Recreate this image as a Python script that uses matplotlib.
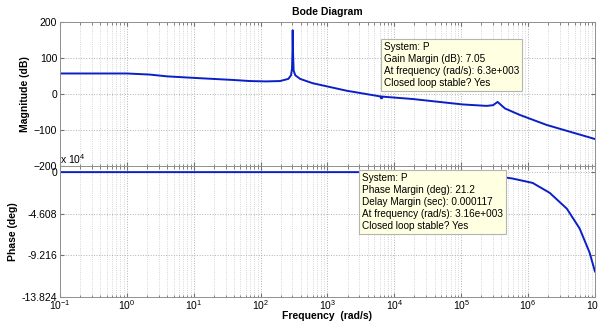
import numpy as np
import matplotlib
matplotlib.use('Agg')
import matplotlib.pyplot as plt
from matplotlib.ticker import FuncFormatter, LogLocator, NullFormatter

plt.rcParams['font.family'] = ['Liberation Sans', 'DejaVu Sans']
plt.rcParams['mathtext.fontset'] = 'custom'
plt.rcParams['mathtext.rm'] = 'Liberation Sans'
plt.rcParams['mathtext.it'] = 'Liberation Sans'

# magnitude curve (rad/s, dB)
mag_freq = [0.1, 0.4, 1, 2.2, 4, 12, 39, 69, 120, 195, 260, 285, 295, 300, 302,
            305, 312, 330, 390, 600, 1950, 6300, 19000, 105000, 240000, 300000,
            350000, 450000, 750000, 1.9e6, 1e7]
mag_db = [57, 57, 57, 54, 49, 44, 39, 36, 35, 36, 42, 52, 70, 120, 177,
          120, 65, 52, 42, 30, 9, -7, -14, -29, -33, -31,
          -22, -40, -58, -86, -125]

# phase curve (rad/s, deg)
ph_freq = [0.1, 1, 10, 100, 1000, 3160, 1e4, 1e5, 2e5, 5.9e5, 1.17e6, 2.1e6,
           3.8e6, 5.9e6, 8.3e6, 1e7]
ph_deg = [-160, -160, -160, -160, -160, -160, -160, -1000, -2100, -7300, -12100,
          -23000, -40600, -62500, -89000, -110000]

mag_yticks = [-200, -100, 0, 100, 200]
ph_yticks = [0, -46080, -92160, -138240]
x_ticks = [10.0 ** k for k in range(-1, 8)]

gm_point = (6300, -7)
pm_point = (3160, -160)

gm_text = ('System: P\nGain Margin (dB): 7.05\n'
           'At frequency (rad/s): 6.3e+003\nClosed loop stable? Yes')
pm_text = ('System: P\nPhase Margin (deg): 21.2\nDelay Margin (sec): 0.000117\n'
           'At frequency (rad/s): 3.16e+003\nClosed loop stable? Yes')

line_color = '#0a1fc8'
box = dict(boxstyle='square,pad=0.3', facecolor='#ffffe1', edgecolor='#b4b4b4', linewidth=0.8)

fig = plt.figure(figsize=(5.98, 3.25), dpi=100)
ax1 = fig.add_axes([0.1003, 0.4892, 0.8946, 0.4431])
ax2 = fig.add_axes([0.1003, 0.0862, 0.8946, 0.4030])


def style_axes(ax):
    ax.set_xscale('log')
    ax.set_xlim(0.1, 1e7)
    ax.set_xticks(x_ticks)
    ax.xaxis.set_minor_locator(LogLocator(base=10, subs=np.arange(2, 10), numticks=20))
    ax.xaxis.set_minor_formatter(NullFormatter())
    ax.grid(True, which='major', linestyle=':', color='#b0b0b0', linewidth=0.7)
    ax.grid(True, which='minor', axis='x', linestyle=':', color='#c8c8c8', linewidth=0.6)
    ax.tick_params(which='both', direction='in', top=True, right=True, colors='#707070',
                   labelcolor='black', labelsize=7.5)
    ax.tick_params(which='major', length=3, pad=2)
    ax.tick_params(which='minor', length=1.8)
    for s in ax.spines.values():
        s.set_color('#909090')
        s.set_linewidth(0.7)


style_axes(ax1)
ax1.plot(mag_freq, mag_db, color=line_color, linewidth=1.4)
ax1.plot(*gm_point, marker='.', color=line_color, markersize=3)
ax1.set_ylim(-200, 200)
ax1.set_yticks(mag_yticks)
ax1.tick_params(labelbottom=False)
ax1.set_ylabel('Magnitude (dB)', fontsize=7.5, fontweight='bold', labelpad=3)
ax1.set_title('Bode Diagram', fontsize=7.5, fontweight='bold', pad=5)
ax1.text(0.605, 0.86, gm_text, transform=ax1.transAxes, fontsize=7.2, va='top',
         ha='left', linespacing=1.25, bbox=box)

style_axes(ax2)
ax2.plot(ph_freq, ph_deg, color=line_color, linewidth=1.4)
ax2.plot(*pm_point, marker='.', color=line_color, markersize=3)
ax2.set_ylim(-138240, 6600)
ax2.set_yticks(ph_yticks)
ax2.yaxis.set_major_formatter(FuncFormatter(lambda v, p: '0' if v == 0 else f'{v / 1e4:.3f}'))
ax2.set_xticklabels([f'$10^{{{k}}}$' for k in range(-1, 8)])
ax2.tick_params(axis='x', pad=1)
ax2.set_ylabel('Phase (deg)', fontsize=7.5, fontweight='bold', labelpad=3)
ax2.set_xlabel('Frequency  (rad/s)', fontsize=7.5, fontweight='bold', labelpad=-1)
ax2.text(0.0, 1.0, r'x $10^4$', transform=ax2.transAxes, fontsize=7.5, ha='left', va='bottom')
ax2.text(0.565, 0.95, pm_text, transform=ax2.transAxes, fontsize=7.2, va='top',
         ha='left', linespacing=1.25, bbox=box)

fig.savefig('out.png', dpi=100)
